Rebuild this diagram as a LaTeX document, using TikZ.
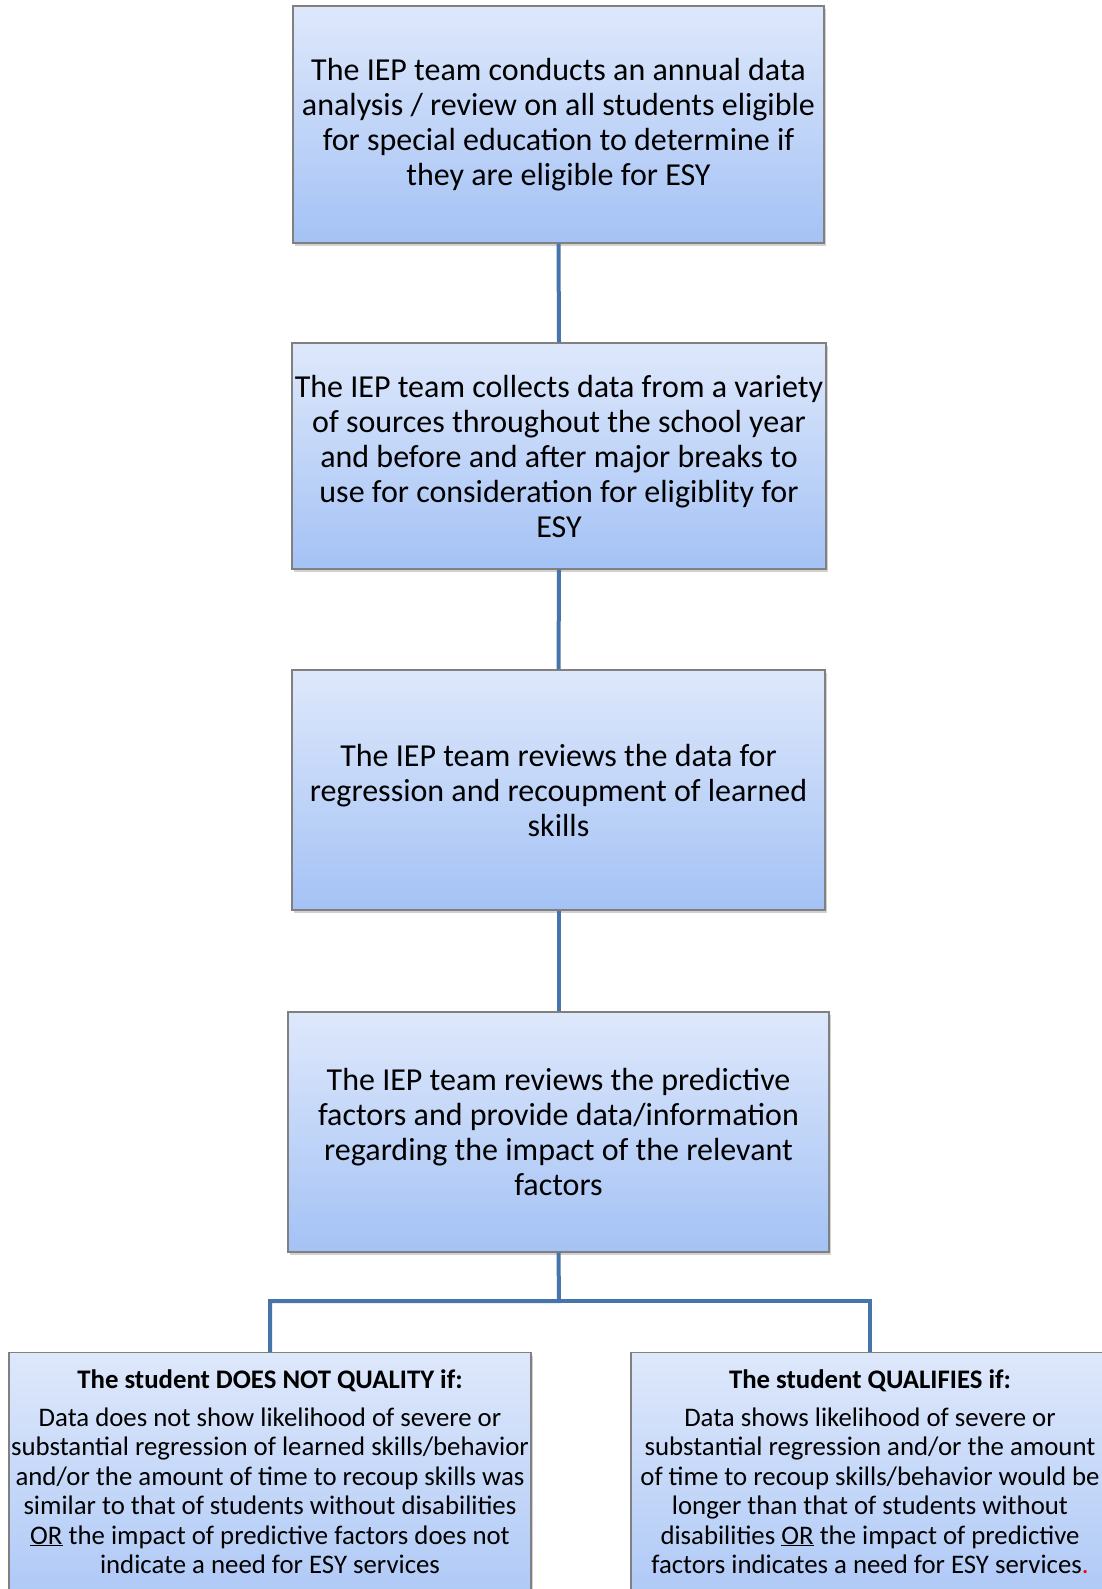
\documentclass[tikz,border=0pt]{standalone}
\usepackage{fontspec}
\setmainfont{Carlito}
\usetikzlibrary{shadows}
\definecolor{boxtop}{RGB}{222,232,251}
\definecolor{boxbot}{RGB}{164,194,245}
\definecolor{boxline}{RGB}{128,128,128}
\definecolor{conn}{RGB}{72,116,172}
\tikzset{
  flowbox/.style={rectangle, draw=boxline, line width=1.2pt, top color=boxtop, bottom color=boxbot,
    drop shadow={shadow xshift=2pt, shadow yshift=-3pt, opacity=0.3, fill=black!60},
    align=center, inner sep=0pt, font=\fontsize{32}{35}\selectfont},
  linkline/.style={draw=conn, line width=4pt, line join=miter},
  outtext/.style={align=center, inner sep=0pt, font=\fontsize{26.8}{29.4}\selectfont, anchor=north}
}
\begin{document}
\begin{tikzpicture}[x=1pt,y=1pt]
\useasboundingbox (0,0) rectangle (1102,-1589);
\clip (0,0) rectangle (1102,-1589);
\node[flowbox, minimum width=531pt, minimum height=237pt] (b1) at (558.5,-124.5)
 {The IEP team conducts an annual data\\analysis / review on all students eligible\\for special education to determine if\\they are eligible for ESY};
\node[flowbox, minimum width=534pt, minimum height=226pt] (b2) at (559,-456)
 {The IEP team collects data from a variety\\of sources throughout the school year\\and before and after major breaks to\\use for consideration for eligiblity for\\ESY};
\node[flowbox, minimum width=533pt, minimum height=240pt] (b3) at (558.5,-790)
 {The IEP team reviews the data for\\regression and recoupment of learned\\skills};
\node[flowbox, minimum width=541pt, minimum height=240pt] (b4) at (558.5,-1132)
 {The IEP team reviews the predictive\\factors and provide data/information\\regarding the impact of the relevant\\factors};
\node[flowbox, minimum width=522pt, minimum height=300pt, anchor=north] (b5) at (270,-1352) {};
\node[flowbox, minimum width=478pt, minimum height=300pt, anchor=north] (b6) at (870,-1352) {};
\node[outtext] (t5) at (270,-1369)
 {\textbf{The student DOES NOT QUALITY if:}\\[9pt]
 Data does not show likelihood of severe or\\substantial regression of learned skills/behavior\\and/or the amount of time to recoup skills was\\similar to that of students without disabilities\\\underline{OR} the impact of predictive factors does not\\indicate a need for ESY services};
\node[outtext] (t6) at (870,-1369)
 {\textbf{The student QUALIFIES if:}\\[9pt]
 Data shows likelihood of severe or\\substantial regression and/or the amount\\of time to recoup skills/behavior would be\\longer than that of students without\\disabilities \underline{OR} the impact of predictive\\factors indicates a need for ESY services{\color{red}.}};
\coordinate (br) at (559,-1301);
\draw[linkline] (b1.south) -- (b2.north);
\draw[linkline] (b2.south) -- (b3.north);
\draw[linkline] (b3.south) -- (b4.north);
\draw[linkline] (b4.south) -- (br) -| (b5.north);
\draw[linkline] (br) -| (b6.north);
\end{tikzpicture}
\end{document}
